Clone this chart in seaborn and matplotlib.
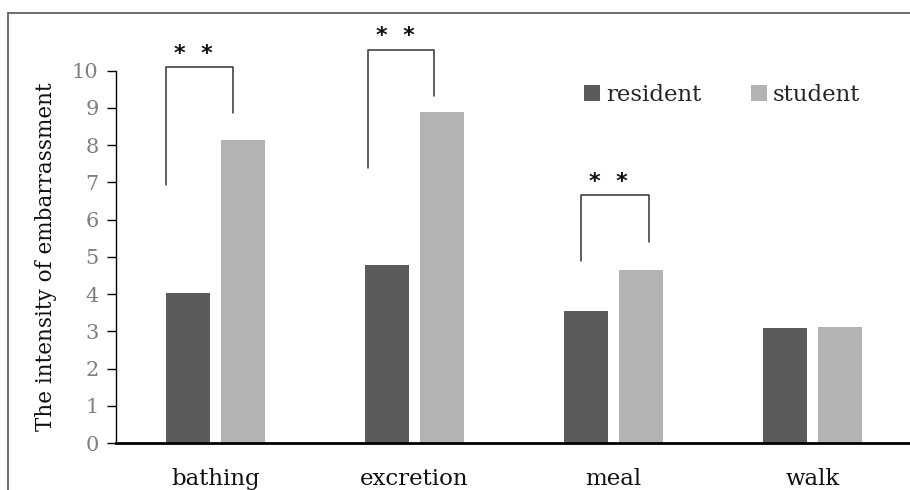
import matplotlib
matplotlib.use("Agg")
import matplotlib.pyplot as plt
import seaborn as sns
import pandas as pd
from matplotlib.lines import Line2D

categories = ["bathing", "excretion", "meal", "walk"]
resident = [4.03, 4.78, 3.55, 3.08]
student = [8.13, 8.88, 4.66, 3.11]
groups = ["resident", "student"]
colors = ["#5b5b5b", "#b3b3b3"]
yticks = list(range(0, 11))
ylabel = "The intensity of embarrassment"
# significance brackets: (category index, left offset, right offset, top, left bottom, right bottom)
brackets = [
    (0, -0.25, 0.09, 10.09, 6.94, 8.87),
    (1, -0.235, 0.10, 10.56, 7.39, 9.33),
    (2, -0.165, 0.178, 6.65, 4.89, 5.40),
]
sig_label = "*  *"

sns.set_theme(style="white")
plt.rcParams["font.family"] = ["DejaVu Serif"]

df = pd.DataFrame({
    "category": categories * 2,
    "group": [groups[0]] * 4 + [groups[1]] * 4,
    "value": resident + student,
})

fig = plt.figure(figsize=(9.1, 4.9), dpi=100)
ax = fig.add_axes([116 / 910, 47 / 490, 796 / 910, 372.3 / 490])

sns.barplot(data=df, x="category", y="value", hue="group", order=categories,
            hue_order=groups, palette=colors, width=0.56, gap=0.21,
            linewidth=0, ax=ax, saturation=1)

ax.set_xlim(-0.5, 3.5)
ax.set_ylim(0, 10)
ax.set_yticks(yticks)
ax.set_yticklabels([str(t) for t in yticks], color="#7f7f7f", fontsize=15)
ax.tick_params(axis="y", length=6.5, width=1, color="black", direction="out", left=True, pad=6)
ax.tick_params(axis="x", length=0, labelsize=16.5, pad=18, labelcolor="#111111")
ax.set_xlabel("")
ax.set_ylabel(ylabel, fontsize=15.5, color="#111111", labelpad=11)

for s in ["top", "right"]:
    ax.spines[s].set_visible(False)
ax.spines["left"].set_color("black")
ax.spines["left"].set_linewidth(1)
ax.spines["bottom"].set_color("black")
ax.spines["bottom"].set_linewidth(2)

for ci, lo, ro, top, lb, rb in brackets:
    xl, xr = ci + lo, ci + ro
    ax.plot([xl, xl, xr, xr], [lb, top, top, rb], color="#333333", lw=1.1, clip_on=False)
    ax.text((xl + xr) / 2 - 0.03, top + 0.1, sig_label, ha="center", va="bottom",
            fontsize=16, family="DejaVu Sans", color="#111111", fontweight="bold")

handles, labels = ax.get_legend_handles_labels()
ax.legend(handles, labels, loc="center left", bbox_to_anchor=(584 / 910, (490 - 95) / 490),
          bbox_transform=fig.transFigure, ncol=2, frameon=False, fontsize=16.5,
          handlelength=0.7, handleheight=0.7, handletextpad=0.25, columnspacing=2.2,
          borderaxespad=0, borderpad=0)

fig.add_artist(Line2D([8 / 910, 1.0], [1 - 13 / 490, 1 - 13 / 490], transform=fig.transFigure,
                      color="#555555", lw=1.2))
fig.add_artist(Line2D([8 / 910, 8 / 910], [0, 1 - 13 / 490], transform=fig.transFigure,
                      color="#555555", lw=1.2))

fig.savefig("out.png", dpi=100)
